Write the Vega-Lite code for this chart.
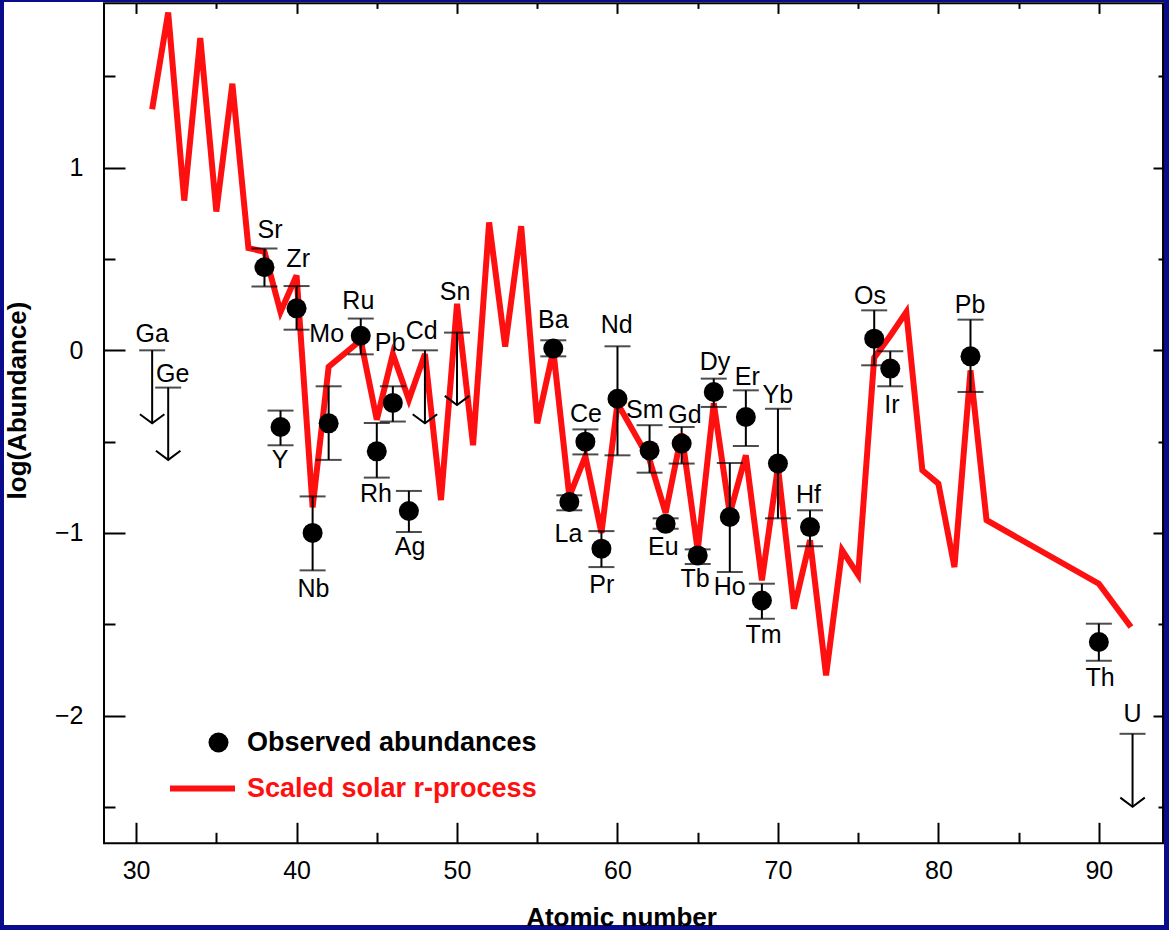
{
  "$schema": "https://vega.github.io/schema/vega-lite/v6.json",
  "width": 1160,
  "height": 923,
  "autosize": {"type": "none"},
  "padding": {"left": 4, "top": 2, "right": 5, "bottom": 5},
  "background": "#0a0c8c",
  "view": {"fill": "white", "stroke": null},
  "config": {
    "font": "Liberation Sans",
    "axis": {"labelFont": "Liberation Sans", "titleFont": "Liberation Sans", "labelColor": "black", "titleColor": "black", "tickColor": "black"},
    "legend": {"labelFont": "Liberation Sans"}
  },
  "datasets": {
    "solar": [
      {"z": 31, "v": 1.32}, {"z": 32, "v": 1.85}, {"z": 33, "v": 0.82}, {"z": 34, "v": 1.71},
      {"z": 35, "v": 0.76}, {"z": 36, "v": 1.46}, {"z": 37, "v": 0.56}, {"z": 38, "v": 0.54},
      {"z": 39, "v": 0.21}, {"z": 40, "v": 0.41}, {"z": 41, "v": -0.86}, {"z": 42, "v": -0.09},
      {"z": 44, "v": 0.055}, {"z": 45, "v": -0.38}, {"z": 46, "v": -0.02}, {"z": 47, "v": -0.27},
      {"z": 48, "v": -0.02}, {"z": 49, "v": -0.82}, {"z": 50, "v": 0.255}, {"z": 51, "v": -0.52},
      {"z": 52, "v": 0.70}, {"z": 53, "v": 0.02}, {"z": 54, "v": 0.68}, {"z": 55, "v": -0.40},
      {"z": 56, "v": 0.0}, {"z": 57, "v": -0.80}, {"z": 58, "v": -0.58}, {"z": 59, "v": -1.0},
      {"z": 60, "v": -0.29}, {"z": 62, "v": -0.60}, {"z": 63, "v": -0.89}, {"z": 64, "v": -0.456},
      {"z": 65, "v": -1.095}, {"z": 66, "v": -0.29}, {"z": 67, "v": -0.894}, {"z": 68, "v": -0.575},
      {"z": 69, "v": -1.26}, {"z": 70, "v": -0.64}, {"z": 71, "v": -1.415}, {"z": 72, "v": -1.04},
      {"z": 73, "v": -1.78}, {"z": 74, "v": -1.095}, {"z": 75, "v": -1.23}, {"z": 76, "v": -0.04},
      {"z": 77, "v": 0.08}, {"z": 78, "v": 0.21}, {"z": 79, "v": -0.657}, {"z": 80, "v": -0.73},
      {"z": 81, "v": -1.187}, {"z": 82, "v": -0.11}, {"z": 83, "v": -0.93}, {"z": 90, "v": -1.278},
      {"z": 92, "v": -1.515}
    ],
    "obs": [
      {"el": "Sr", "z": 38, "v": 0.455, "lo": 0.35, "hi": 0.557},
      {"el": "Y", "z": 39, "v": -0.42, "lo": -0.52, "hi": -0.33},
      {"el": "Zr", "z": 40, "v": 0.23, "lo": 0.113, "hi": 0.352},
      {"el": "Nb", "z": 41, "v": -1.0, "lo": -1.205, "hi": -0.8},
      {"el": "Mo", "z": 42, "v": -0.4, "lo": -0.6, "hi": -0.197},
      {"el": "Ru", "z": 44, "v": 0.08, "lo": -0.022, "hi": 0.174},
      {"el": "Rh", "z": 45, "v": -0.553, "lo": -0.697, "hi": -0.398},
      {"el": "Pd", "z": 46, "v": -0.288, "lo": -0.39, "hi": -0.197},
      {"el": "Ag", "z": 47, "v": -0.88, "lo": -0.995, "hi": -0.77},
      {"el": "Ba", "z": 56, "v": 0.01, "lo": -0.033, "hi": 0.055},
      {"el": "La", "z": 57, "v": -0.83, "lo": -0.876, "hi": -0.794},
      {"el": "Ce", "z": 58, "v": -0.5, "lo": -0.57, "hi": -0.433},
      {"el": "Pr", "z": 59, "v": -1.086, "lo": -1.187, "hi": -0.99},
      {"el": "Nd", "z": 60, "v": -0.265, "lo": -0.575, "hi": 0.022},
      {"el": "Sm", "z": 62, "v": -0.548, "lo": -0.67, "hi": -0.41},
      {"el": "Eu", "z": 63, "v": -0.95, "lo": -0.977, "hi": -0.92},
      {"el": "Gd", "z": 64, "v": -0.51, "lo": -0.62, "hi": -0.42},
      {"el": "Tb", "z": 65, "v": -1.123, "lo": -1.17, "hi": -1.09},
      {"el": "Dy", "z": 66, "v": -0.228, "lo": -0.31, "hi": -0.155},
      {"el": "Ho", "z": 67, "v": -0.913, "lo": -1.214, "hi": -0.617},
      {"el": "Er", "z": 68, "v": -0.365, "lo": -0.524, "hi": -0.219},
      {"el": "Tm", "z": 69, "v": -1.37, "lo": -1.47, "hi": -1.278},
      {"el": "Yb", "z": 70, "v": -0.62, "lo": -0.92, "hi": -0.32},
      {"el": "Hf", "z": 72, "v": -0.968, "lo": -1.073, "hi": -0.876},
      {"el": "Os", "z": 76, "v": 0.064, "lo": -0.082, "hi": 0.219},
      {"el": "Ir", "z": 77, "v": -0.1, "lo": -0.197, "hi": -0.005},
      {"el": "Pb", "z": 82, "v": -0.033, "lo": -0.228, "hi": 0.168},
      {"el": "Th", "z": 90, "v": -1.597, "lo": -1.7, "hi": -1.497}
    ],
    "limits": [
      {"el": "Ga", "z": 31, "v": 0.0, "tip": -0.4},
      {"el": "Ge", "z": 32, "v": -0.204, "tip": -0.6},
      {"el": "Cd", "z": 48, "v": 0.0, "tip": -0.4},
      {"el": "Sn", "z": 50, "v": 0.097, "tip": -0.3},
      {"el": "U", "z": 92.1, "v": -2.1, "tip": -2.5}
    ],
    "labels": [
      {"t": "Ga", "z": 31.0, "v": 0.09}, {"t": "Ge", "z": 32.28, "v": -0.13},
      {"t": "Sr", "z": 38.35, "v": 0.657}, {"t": "Zr", "z": 40.1, "v": 0.5},
      {"t": "Y", "z": 38.97, "v": -0.6}, {"t": "Mo", "z": 41.88, "v": 0.09},
      {"t": "Nb", "z": 41.05, "v": -1.305}, {"t": "Ru", "z": 43.85, "v": 0.27},
      {"t": "Pb", "z": 45.83, "v": 0.04}, {"t": "Rh", "z": 44.95, "v": -0.785},
      {"t": "Cd", "z": 47.8, "v": 0.104}, {"t": "Ag", "z": 47.07, "v": -1.077},
      {"t": "Sn", "z": 49.88, "v": 0.32}, {"t": "Ba", "z": 56.0, "v": 0.168},
      {"t": "Nd", "z": 59.95, "v": 0.137}, {"t": "Ce", "z": 58.04, "v": -0.347},
      {"t": "La", "z": 56.94, "v": -1.004}, {"t": "Pr", "z": 59.02, "v": -1.287},
      {"t": "Sm", "z": 61.7, "v": -0.329}, {"t": "Gd", "z": 64.2, "v": -0.356},
      {"t": "Eu", "z": 62.86, "v": -1.077}, {"t": "Tb", "z": 64.83, "v": -1.25},
      {"t": "Dy", "z": 66.08, "v": -0.064}, {"t": "Ho", "z": 67.0, "v": -1.296},
      {"t": "Er", "z": 68.09, "v": -0.146}, {"t": "Yb", "z": 69.99, "v": -0.246},
      {"t": "Tm", "z": 69.1, "v": -1.56}, {"t": "Hf", "z": 71.9, "v": -0.794},
      {"t": "Os", "z": 75.74, "v": 0.3}, {"t": "Ir", "z": 77.1, "v": -0.3},
      {"t": "Pb", "z": 81.97, "v": 0.25}, {"t": "Th", "z": 90.07, "v": -1.796},
      {"t": "U", "z": 92.1, "v": -1.99}
    ]
  },
  "layer": [
    {
      "data": {"name": "solar"},
      "mark": {"type": "line", "strokeWidth": 6, "strokeJoin": "miter"},
      "encoding": {
        "x": {
          "field": "z", "type": "quantitative",
          "scale": {"domain": [21.767, 94.06], "nice": false, "zero": false},
          "axis": {
            "orient": "bottom", "offset": -81.7,
            "values": [30, 35, 40, 45, 50, 55, 60, 65, 70, 75, 80, 85, 90],
            "domain": false, "grid": false, "tickWidth": 2,
            "tickSize": {"condition": {"test": "datum.value % 10 === 0", "value": -21}, "value": -11},
            "labelExpr": "datum.value % 10 === 0 ? datum.label : ''",
            "labelFontSize": 25, "labelPadding": 36, "labelFlush": false, "labelOverlap": false,
            "title": "Atomic number", "titleFontSize": 26, "titleFontWeight": "bold", "titlePadding": 11,
            "titleX": 617
          }
        },
        "y": {
          "field": "v", "type": "quantitative",
          "scale": {"domain": [-3.147, 1.9075], "nice": false, "zero": false},
          "axis": {
            "orient": "left", "offset": -100,
            "values": [-2.5, -2, -1.5, -1, -0.5, 0, 0.5, 1, 1.5],
            "domain": false, "grid": false, "tickWidth": 2,
            "tickSize": {"condition": {"test": "datum.value % 1 === 0", "value": -21}, "value": -11},
            "labelExpr": "datum.value % 1 === 0 ? format(datum.value, 'd') : ''",
            "labelFontSize": 25, "labelPadding": 42, "labelFlush": false, "labelOverlap": false,
            "title": "log(Abundance)", "titleFontSize": 26, "titleFontWeight": "bold", "titlePadding": 24,
            "titleY": 398
          }
        },
        "stroke": {
          "datum": "Scaled solar r-process", "type": "nominal",
          "scale": {"range": ["#ff1010"]},
          "legend": {
            "orient": "none", "legendX": 163, "legendY": 751, "title": null, "padding": 0,
            "labelFontSize": 27, "labelFontWeight": "bold", "labelColor": "#ff1010", "labelLimit": 0,
            "symbolType": "stroke", "symbolSize": 4225, "symbolStrokeWidth": 6, "symbolStrokeColor": "#ff1010",
            "labelOffset": 9
          }
        }
      }
    },
    {
      "data": {"name": "obs"},
      "mark": {"type": "rule", "strokeWidth": 2, "color": "black"},
      "encoding": {
        "x": {"field": "z", "type": "quantitative", "axis": null},
        "y": {"field": "lo", "type": "quantitative", "axis": null},
        "y2": {"field": "hi"}
      }
    },
    {
      "data": {"name": "obs"},
      "mark": {"type": "tick", "orient": "horizontal", "size": 26, "thickness": 2, "color": "black"},
      "encoding": {
        "x": {"field": "z", "type": "quantitative", "axis": null},
        "y": {"field": "lo", "type": "quantitative", "axis": null}
      }
    },
    {
      "data": {"name": "obs"},
      "mark": {"type": "tick", "orient": "horizontal", "size": 26, "thickness": 2, "color": "black"},
      "encoding": {
        "x": {"field": "z", "type": "quantitative", "axis": null},
        "y": {"field": "hi", "type": "quantitative", "axis": null}
      }
    },
    {
      "data": {"name": "obs"},
      "mark": {"type": "point", "filled": true, "size": 400, "opacity": 1, "shape": "circle"},
      "encoding": {
        "x": {
          "field": "z", "type": "quantitative",
          "axis": {
            "orient": "top", "offset": -1.4,
            "values": [30, 35, 40, 45, 50, 55, 60, 65, 70, 75, 80, 85, 90],
            "domain": false, "grid": false, "labels": false, "tickWidth": 2,
            "tickSize": {"condition": {"test": "datum.value % 10 === 0", "value": -10}, "value": -5},
            "title": null
          }
        },
        "y": {
          "field": "v", "type": "quantitative",
          "axis": {
            "orient": "right", "offset": -1,
            "values": [-2.5, -2, -1.5, -1, -0.5, 0, 0.5, 1, 1.5],
            "domain": false, "grid": false, "labels": false, "tickWidth": 2,
            "tickSize": {"condition": {"test": "datum.value % 1 === 0", "value": -10}, "value": -5},
            "title": null
          }
        },
        "fill": {
          "datum": "Observed abundances", "type": "nominal",
          "scale": {"range": ["black"]},
          "legend": {
            "orient": "none", "legendX": 201, "legendY": 727, "title": null, "padding": 0,
            "labelFontSize": 27, "labelFontWeight": "bold", "labelColor": "black", "labelLimit": 0,
            "symbolType": "circle", "symbolSize": 400, "symbolOpacity": 1, "symbolStrokeWidth": 0,
            "labelOffset": 15
          }
        }
      }
    },
    {
      "data": {"name": "limits"},
      "mark": {"type": "rule", "strokeWidth": 2, "color": "black"},
      "encoding": {
        "x": {"field": "z", "type": "quantitative", "axis": null},
        "y": {"field": "v", "type": "quantitative", "axis": null},
        "y2": {"field": "tip"}
      }
    },
    {
      "data": {"name": "limits"},
      "mark": {"type": "tick", "orient": "horizontal", "size": 26, "thickness": 2, "color": "black"},
      "encoding": {
        "x": {"field": "z", "type": "quantitative", "axis": null},
        "y": {"field": "v", "type": "quantitative", "axis": null}
      }
    },
    {
      "data": {"name": "limits"},
      "mark": {"type": "point", "shape": "M-1,-0.75L0,0L1,-0.75", "filled": false, "size": 600, "strokeWidth": 2, "color": "black", "opacity": 1},
      "encoding": {
        "x": {"field": "z", "type": "quantitative", "axis": null},
        "y": {"field": "tip", "type": "quantitative", "axis": null}
      }
    },
    {
      "data": {"name": "labels"},
      "mark": {"type": "text", "fontSize": 25, "font": "Liberation Sans", "align": "center", "baseline": "middle", "color": "black"},
      "encoding": {
        "x": {"field": "z", "type": "quantitative", "axis": null},
        "y": {"field": "v", "type": "quantitative", "axis": null},
        "text": {"field": "t"}
      }
    },
    {
      "data": {"values": [{}]},
      "mark": {"type": "rect", "filled": false, "stroke": "black", "strokeWidth": 2},
      "encoding": {
        "x": {"datum": 28, "type": "quantitative", "axis": null},
        "x2": {"datum": 94},
        "y": {"datum": -2.7, "type": "quantitative", "axis": null},
        "y2": {"datum": 1.9}
      }
    }
  ],
  "resolve": {"axis": {"x": "independent", "y": "independent"}}
}
